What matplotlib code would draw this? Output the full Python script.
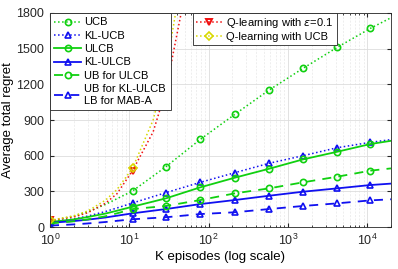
import numpy as np
import matplotlib.pyplot as plt

plt.rc('font', family=['Liberation Sans', 'DejaVu Sans'], size=10)

# Episodes at which values are read (markers at 1 and from 11 on)
K = [1, 2, 3, 5, 7, 11, 29, 79, 215, 580, 1560, 4200, 11000, 20000]
ucb      = [50, 90, 128, 190, 238, 303, 507, 738, 948, 1152, 1335, 1511, 1671, 1760]
kl_ucb   = [42, 68, 92, 130, 160, 202, 289, 376, 457, 536, 600, 667, 712, 735]
ulcb     = [42, 64, 84, 113, 137, 171, 241, 334, 415, 490, 569, 633, 698, 725]
kl_ulcb  = [35, 50, 62, 80, 95, 115, 151, 193, 227, 263, 297, 325, 353, 365]
ub_ulcb  = [30, 48, 64, 90, 115, 151, 177, 227, 283, 325, 376, 423, 474, 493]
lb_maba  = [12, 22, 30, 42, 52, 65, 82, 109, 124, 151, 177, 199, 224, 233]

K_q = [1, 2, 3, 5, 7, 11, 20, 29, 50]
q_eps = [55, 85, 120, 200, 280, 474, 800, 1152, 1950]
q_ucb = [55, 95, 135, 225, 315, 495, 900, 1320, 2250]

green = '#10d010'
blue = '#1010f0'
red = '#f01010'
yellow = '#d8d800'

mk = [0] + list(range(5, 13))   # indices that carry a marker
mk_q = [0, 5, 7]

fig = plt.figure(figsize=(3.98, 2.69), dpi=100)
ax = fig.add_axes([0.1256, 0.1561, 0.8568, 0.7956])

h1, = ax.plot(K, ucb, ':', color=green, marker='o', mfc='none', ms=4.5, mew=1.2, lw=1.1, markevery=mk, label='UCB')
h2, = ax.plot(K, kl_ucb, ':', color=blue, marker='^', mfc='none', ms=4.5, mew=1.2, lw=1.1, markevery=mk, label='KL-UCB')
h3, = ax.plot(K, ulcb, '-', color=green, marker='o', mfc='none', ms=4.5, mew=1.2, lw=1.3, markevery=mk, label='ULCB')
h4, = ax.plot(K, kl_ulcb, '-', color=blue, marker='^', mfc='none', ms=4.5, mew=1.2, lw=1.3, markevery=mk, label='KL-ULCB')
h5, = ax.plot(K, ub_ulcb, '--', color=green, marker='o', mfc='none', ms=4.5, mew=1.2, lw=1.3, markevery=mk, dashes=(5, 4), label='UB for ULCB')
h6, = ax.plot(K, lb_maba, '--', color=blue, marker='^', mfc='none', ms=4.5, mew=1.2, lw=1.3, markevery=mk, dashes=(5, 4), label='UB for KL-ULCB\nLB for MAB-A')
h7, = ax.plot(K_q, q_eps, ':', color=red, marker='v', mfc='none', ms=4.5, mew=1.4, lw=1.1, markevery=mk_q, label=r'Q-learning with $\epsilon$=0.1')
h8, = ax.plot(K_q, q_ucb, ':', color=yellow, marker='D', mfc='none', ms=3.8, mew=1.2, lw=1.1, markevery=mk_q, label='Q-learning with UCB')

ax.set_xscale('log')
ax.set_xlim(1, 2e4)
ax.set_ylim(0, 1800)
ax.set_yticks([0, 300, 600, 900, 1200, 1500, 1800])
ax.grid(True, which='major', color='#dddddd', lw=0.6)
ax.grid(True, which='minor', axis='x', color='#e8e8e8', lw=0.5, ls=(0, (3, 2)))
ax.set_axisbelow(True)
ax.tick_params(which='both', direction='in', colors='#262626', labelsize=9, top=True, right=True)
ax.tick_params(which='major', length=3, pad=4)
ax.tick_params(which='minor', length=1.5)
for s in ax.spines.values():
    s.set_color('#262626')
    s.set_linewidth(0.6)

ax.set_xlabel('K episodes (log scale)', fontsize=9.5, labelpad=2)
ax.set_ylabel('Average total regret', fontsize=9.5)
ax.yaxis.set_label_coords(-0.105, 0.5)

leg_kw = dict(fontsize=8, frameon=True, fancybox=False, edgecolor='#262626', framealpha=1,
              borderaxespad=0, handlelength=2.4, handletextpad=0.3)
leg1 = ax.legend(handles=[h1, h2, h3, h4, h5, h6], loc='upper left', bbox_to_anchor=(0, 1),
                 labelspacing=0.3, borderpad=0.4, **leg_kw)
leg1.get_frame().set_linewidth(0.6)
ax.add_artist(leg1)
leg2 = ax.legend(handles=[h7, h8], loc='upper left', bbox_to_anchor=(0.418, 1),
                 labelspacing=0.15, borderpad=0.3, **leg_kw)
leg2.get_frame().set_linewidth(0.6)

fig.savefig('out.png', dpi=100)
